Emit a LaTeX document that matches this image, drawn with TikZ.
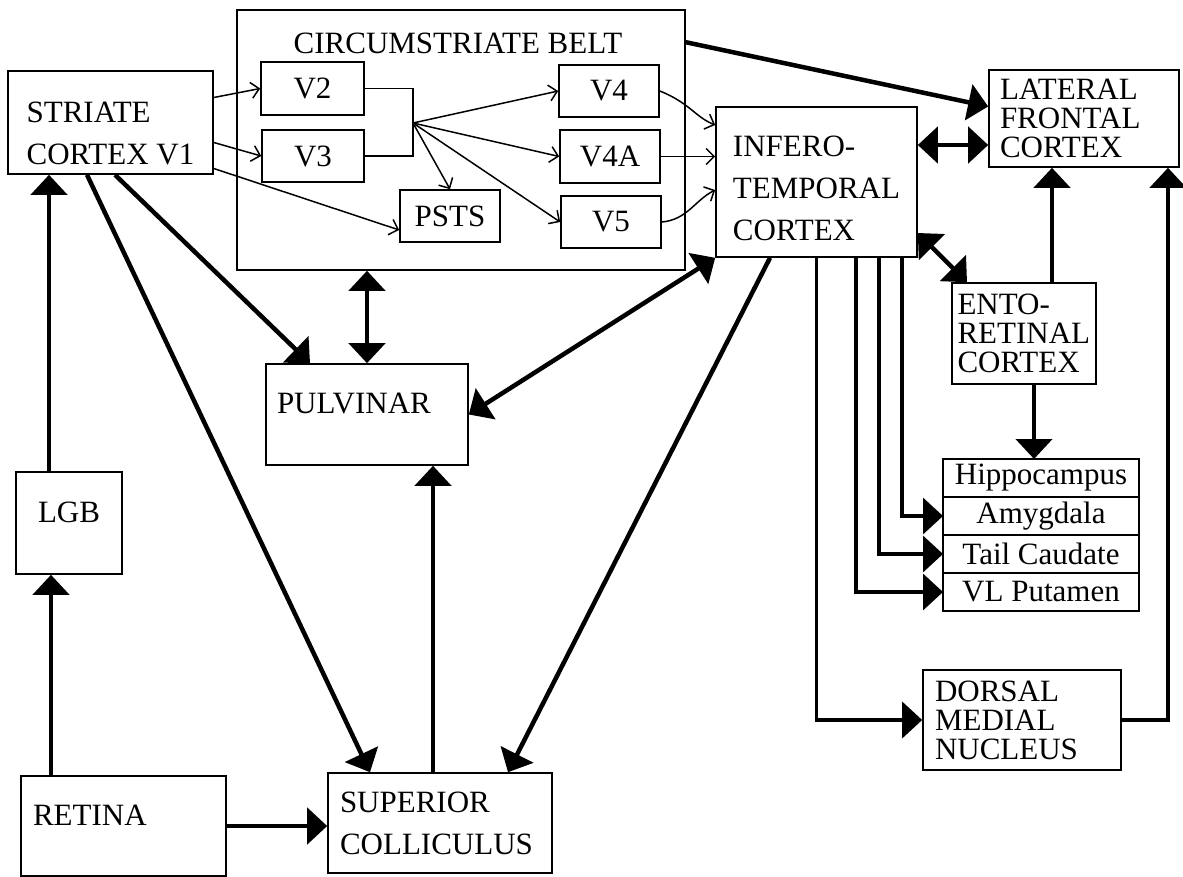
\documentclass[tikz,border=0pt]{standalone}
\usepackage{fontspec}
\setmainfont{Liberation Serif}
\usetikzlibrary{arrows.meta,positioning,calc}
\newcommand{\boxfont}{\fontsize{31}{42}\selectfont}
\newcommand{\tightfont}{\fontsize{31}{29}\selectfont}

\begin{document}
\begin{tikzpicture}[x=1pt, y=-1pt]
    % Define styles
    \tikzstyle{box} = [rectangle, draw, line width=1.6pt, inner sep=0pt, font=\boxfont]
    \tikzstyle{multi} = [box, align=left]
    \tikzstyle{tight} = [box, align=left, font=\tightfont]
    \tikzstyle{row} = [box, outer sep=0pt, minimum width=196pt, minimum height=38pt]
    \tikzstyle{arrow} = [line width=4.5pt, -{Triangle[length=20pt, width=36pt]}]
    \tikzstyle{twoway} = [line width=4.5pt, {Triangle[length=20pt, width=36pt]}-{Triangle[length=20pt, width=36pt]}]
    \tikzstyle{tap} = [line width=3.5pt, -{Triangle[length=20pt, width=36pt]}]
    \tikzstyle{thinarrow} = [line width=1.5pt, -{Straight Barb[length=8pt, width=16pt]}]
    \tikzstyle{thinline} = [line width=1.5pt]

    \useasboundingbox (0,0) rectangle (1183,876);

    % Visual input (left side)
    \node [multi, minimum width=205pt, minimum height=103pt] (v1) at (110.5,122.5) {\rule{0pt}{42pt}STRIATE\\CORTEX V1};
    \node [box, minimum width=106pt, minimum height=102pt, text height=20pt, text depth=21pt] (lgb) at (69,523) {LGB};
    \node [box, minimum width=205pt, minimum height=100pt, text width=181pt, text height=20pt, text depth=21pt] (retina) at (123.5,826) {RETINA};
    \node [multi, minimum width=224pt, minimum height=100pt, text width=200pt] (sc) at (440,823) {SUPERIOR\\COLLICULUS};
    \node [box, minimum width=202pt, minimum height=101pt, text width=180pt, text height=20pt, text depth=22pt] (pulvinar) at (367,414.5) {PULVINAR};

    % Circumstriate belt
    \node [box, minimum width=448pt, minimum height=260pt] (belt) at (461,140) {};
    \node [font=\boxfont] (belttitle) at (458,43) {CIRCUMSTRIATE BELT};
    \node [box, minimum width=103pt, minimum height=53pt] (v2) at (312.5,88.5) {V2};
    \node [box, minimum width=102pt, minimum height=52pt] (v3) at (313,156) {V3};
    \node [box, minimum width=100pt, minimum height=52pt] (psts) at (450,216) {PSTS};
    \node [box, minimum width=100pt, minimum height=52pt] (v4) at (609,91) {V4};
    \node [box, minimum width=100pt, minimum height=53pt] (v4a) at (610,156.5) {V4A};
    \node [box, minimum width=100pt, minimum height=52pt] (v5) at (611,222) {V5};
    \coordinate (fork) at (413,123);

    % Temporal and frontal targets (right side)
    \node [multi, minimum width=201pt, minimum height=150pt] (it) at (816.5,182) {\rule{0pt}{34pt}INFERO-\\TEMPORAL\\CORTEX};
    \node [tight, minimum width=190pt, minimum height=97pt, text width=168pt] (lfc) at (1084,118.5) {LATERAL\\FRONTAL\\CORTEX};
    \node [tight, minimum width=144pt, minimum height=101pt, text width=133pt] (ento) at (1024,333.5) {ENTO-\\RETINAL\\CORTEX};
    \node [row] (hippo) at (1041,478) {Hippocampus};
    \node [row, below=0pt of hippo] (amyg) {Amygdala};
    \node [row, below=0pt of amyg] (tail) {Tail Caudate};
    \node [row, below=0pt of tail] (vlp) {VL Putamen};
    \node [tight, minimum width=198pt, minimum height=100pt, text width=174pt] (dmn) at (1022,720) {DORSAL\\MEDIAL\\NUCLEUS};

    % Projections into the belt
    \draw [thinarrow] ([yshift=25pt]v1.east) -- (v2.west);
    \draw [thinarrow] ([yshift=-20pt]v1.east) -- (v3.west);
    \draw [thinarrow] ([yshift=-46pt]v1.east) -- ([yshift=-14pt]psts.west);
    \draw [thinline] (v2.east) -- (v2.east -| fork) -- (v3.east -| fork) -- (v3.east);
    \draw [thinarrow] (fork) -- (v4.west);
    \draw [thinarrow] (fork) -- (v4a.west);
    \draw [thinarrow] (fork) -- (v5.west);
    \draw [thinarrow] (fork) -- (psts.north);
    \draw [thinarrow] (v4.east) .. controls +(30,12) and +(-20,-8) .. ([yshift=57pt]it.west);
    \draw [thinarrow] (v4a.east) -- (v4a.east -| it.west);
    \draw [thinarrow] (v5.east) .. controls +(25,-2) and +(-20,10) .. ([yshift=-8pt]it.west);

    % Subcortical projections
    \coordinate (lgbup) at ([xshift=-20pt]lgb.north);
    \draw [arrow] (lgbup) -- (lgbup |- v1.south);
    \coordinate (retup) at ([xshift=-18pt]lgb.south);
    \draw [arrow] (retup |- retina.north) -- (retup);
    \draw [arrow] (retina.east) -- (retina.east -| sc.west);
    \draw [arrow] ([xshift=4.5pt]v1.south) -- ([xshift=-57pt]pulvinar.north);
    \draw [arrow] ([xshift=-23.5pt]v1.south) -- ([xshift=-70pt]sc.north);
    \draw [twoway] (belt.south -| pulvinar.north) -- (pulvinar.north);
    \coordinate (scup) at ([xshift=-7pt]sc.north);
    \draw [arrow] (scup) -- (scup |- pulvinar.south);
    \draw [twoway] (pulvinar.east) -- (it.south west);
    \draw [arrow] ([xshift=-46.5pt]it.south) -- ([xshift=68pt]sc.north);

    % Frontal and entorhinal links
    \draw [arrow] ([yshift=-33pt]belt.north east) -- ([yshift=12pt]lfc.west);
    \coordinate (itlfc) at ([yshift=37pt]it.east);
    \draw [twoway] (itlfc) -- (itlfc -| lfc.west);
    \draw [twoway] ([yshift=-51pt]it.east) -- ([xshift=-57pt]ento.north);
    \coordinate (entoup) at ([xshift=28pt]ento.north);
    \draw [arrow] (entoup) -- (entoup |- lfc.south);
    \coordinate (entodown) at ([xshift=10pt]ento.south);
    \draw [arrow] (entodown) -- (entodown |- hippo.north);
    \draw [arrow] (dmn.east) -| ([xshift=84pt]lfc.south);

    % Outputs of infero-temporal cortex
    \draw [tap] ([xshift=85.5pt]it.south) |- (amyg.west);
    \draw [tap] ([xshift=62.5pt]it.south) |- (tail.west);
    \draw [tap] ([xshift=39.5pt]it.south) |- (vlp.west);
    \draw [tap] (it.south) |- (dmn.west);
\end{tikzpicture}
\end{document}
